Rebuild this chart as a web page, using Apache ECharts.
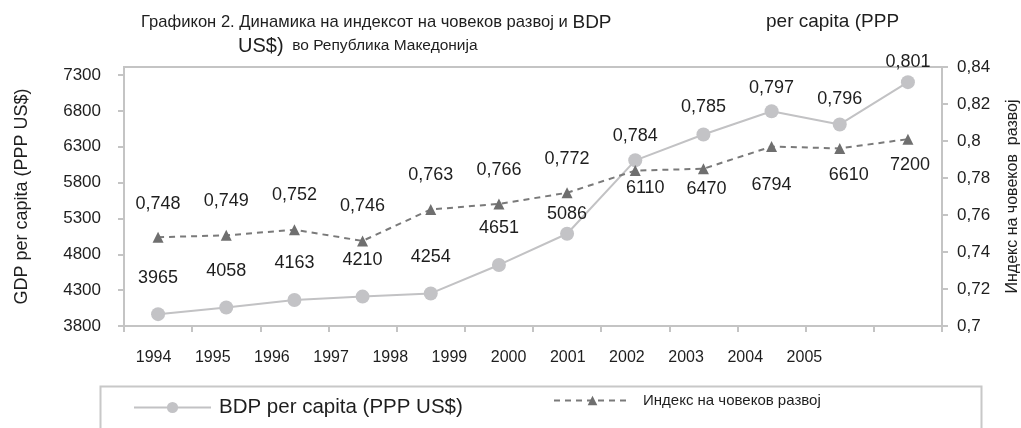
<!DOCTYPE html>
<html>
<head>
<meta charset="utf-8">
<script src="https://cdn.jsdelivr.net/npm/echarts@6/dist/echarts.min.js"></script>
<style>html,body{margin:0;padding:0;background:#fff}#c{width:1021px;height:428px}</style>
</head>
<body>
<div id="c"></div>
<script>
// ---- data ----
const years = ['1994','1995','1996','1997','1998','1999','2000','2001','2002','2003','2004','2005'];
const bdp = [3965, 4058, 4163, 4210, 4254, 4651, 5086, 6110, 6470, 6794, 6610, 7200];
const hdi = [0.748, 0.749, 0.752, 0.746, 0.763, 0.766, 0.772, 0.784, 0.785, 0.797, 0.796, 0.801];
const seriesNames = ['BDP per capita (PPP US$)', 'Индекс на човеков развој'];
const leftAxisName = 'GDP per capita (PPP US$)';
const rightAxisName = 'Индекс на човеков  развој';
// In the original, from this point on the index label sits above the GDP marker and the GDP label below the index marker
const SWAP_FROM = 7;

// ---- label placement (style only): gap between marker and its label, as in the original ----
const bdpMarkerLabelGap = [20, 20, 21, 21, 20, 21, 4, 8, 11, 7, 9, 4];
const hdiMarkerLabelGap = [19, 20, 20, 20, 20, 19, 19, 3, 6, 24, 12, 11];
const hdiMarkerLabelShift = [0, 0, 0, 0, 0, 0, 0, 10, 3, 0, 9, 2];

const FONT = "'Liberation Sans', Arial, sans-serif";
const TXT = '#1e1e1e';
const AXIS = '#c4c4c4';

const fmtHdi = v => v.toFixed(3).replace('.', ',');
const labelStyle = {fontFamily: FONT, fontSize: 18, color: TXT};

const bdpData = bdp.map((v, i) => ({
  value: v,
  label: Object.assign({show: true, position: 'top', distance: bdpMarkerLabelGap[i],
    formatter: i < SWAP_FROM ? String(v) : fmtHdi(hdi[i])}, labelStyle)
}));
const hdiData = hdi.map((v, i) => ({
  value: v,
  label: Object.assign({show: true,
    position: i < SWAP_FROM ? 'top' : 'bottom',
    distance: hdiMarkerLabelGap[i],
    offset: [hdiMarkerLabelShift[i], 0],
    formatter: i < SWAP_FROM ? fmtHdi(v) : String(bdp[i])}, labelStyle)
}));

const chart = echarts.init(document.getElementById('c'), null, {renderer: 'canvas'});
chart.setOption({
  animation: false,
  backgroundColor: '#fff',
  textStyle: {fontFamily: FONT},
  title: [
    {left: 141, top: 13, padding: 0, text: 'Графикон 2. Динамика на индексот на човеков развој и {b|BDP}',
     textStyle: {fontFamily: FONT, fontSize: 16.6, fontWeight: 'normal', color: TXT,
       rich: {b: {fontFamily: FONT, fontSize: 19, color: TXT}}}},
    {left: 766, top: 12, padding: 0, text: 'per capita (PPP',
     textStyle: {fontFamily: FONT, fontSize: 19, fontWeight: 'normal', color: TXT}},
    {left: 238, top: 36, padding: 0, text: '{u|US$)}  во Република Македонија',
     textStyle: {fontFamily: FONT, fontSize: 15.5, fontWeight: 'normal', color: TXT,
       rich: {u: {fontFamily: FONT, fontSize: 20, color: TXT}}}}
  ],
  grid: [
    {left: 124, top: 67, width: 818, height: 259, show: true, borderColor: AXIS, borderWidth: 2,
     containLabel: false, outerBoundsMode: 'none'},
    {left: 124, top: 67, width: 710, height: 259, show: false,
     containLabel: false, outerBoundsMode: 'none'}
  ],
  xAxis: [
    {type: 'category', gridIndex: 0, data: years, boundaryGap: true,
     axisLine: {lineStyle: {color: AXIS, width: 2}},
     axisTick: {show: true, interval: 0, length: 6, lineStyle: {color: AXIS, width: 2}},
     axisLabel: {show: false}},
    {type: 'category', gridIndex: 1, data: years, boundaryGap: true,
     axisLine: {show: false}, axisTick: {show: false},
     axisLabel: {interval: 0, margin: 24, fontFamily: FONT, fontSize: 16, color: TXT}}
  ],
  yAxis: [
    {type: 'value', gridIndex: 0, min: 3800, max: 7411, interval: 500,
     name: leftAxisName, nameLocation: 'middle', nameGap: 93, nameRotate: 90,
     nameTextStyle: {fontFamily: FONT, fontSize: 18, color: TXT},
     axisLine: {show: true, lineStyle: {color: AXIS, width: 2}},
     axisTick: {show: true, length: 6, lineStyle: {color: AXIS, width: 2}},
     axisLabel: {showMaxLabel: false, margin: 23, fontFamily: FONT, fontSize: 17, color: TXT,
       formatter: v => String(v)},
     splitLine: {show: false}},
    {type: 'value', gridIndex: 0, position: 'right', min: 0.7, max: 0.84, interval: 0.02,
     name: rightAxisName, nameLocation: 'middle', nameGap: 63, nameRotate: 90,
     nameTextStyle: {fontFamily: FONT, fontSize: 16, color: TXT},
     axisLine: {show: true, lineStyle: {color: AXIS, width: 2}},
     axisTick: {show: true, length: 6, lineStyle: {color: AXIS, width: 2}},
     axisLabel: {margin: 15, fontFamily: FONT, fontSize: 17, color: TXT,
       formatter: v => String(Math.round(v * 100) / 100).replace('.', ',')},
     splitLine: {show: false}},
    {type: 'value', gridIndex: 1, show: false}
  ],
  legend: [
    {data: [seriesNames[0]], left: 133, top: 397, padding: 0, itemWidth: 77, itemHeight: 14,
     textStyle: {fontFamily: FONT, fontSize: 20.5, color: TXT, padding: [0, 0, 0, 3]}},
    {data: [seriesNames[1]], left: 553, top: 393, padding: 0, itemWidth: 77, itemHeight: 12,
     textStyle: {fontFamily: FONT, fontSize: 15, color: TXT, padding: [0, 0, 0, 7]}}
  ],
  graphic: [
    {type: 'rect', left: 98, top: 384, silent: true,
     shape: {width: 881, height: 70},
     style: {fill: 'none', stroke: '#c8c8c8', lineWidth: 2}}
  ],
  series: [
    {name: seriesNames[0], type: 'line', xAxisIndex: 0, yAxisIndex: 0, data: bdpData,
     symbol: 'circle', symbolSize: 14, showAllSymbol: true,
     itemStyle: {color: '#c3c3c6'},
     lineStyle: {color: '#c2c2c4', width: 2}, z: 2},
    {name: seriesNames[1], type: 'line', xAxisIndex: 0, yAxisIndex: 1, data: hdiData,
     symbol: 'triangle', symbolSize: 11, showAllSymbol: true,
     itemStyle: {color: '#6f6f6f'},
     lineStyle: {color: '#7a7a7a', width: 2, type: [6, 5]}, z: 3}
  ]
});
</script>
</body>
</html>
